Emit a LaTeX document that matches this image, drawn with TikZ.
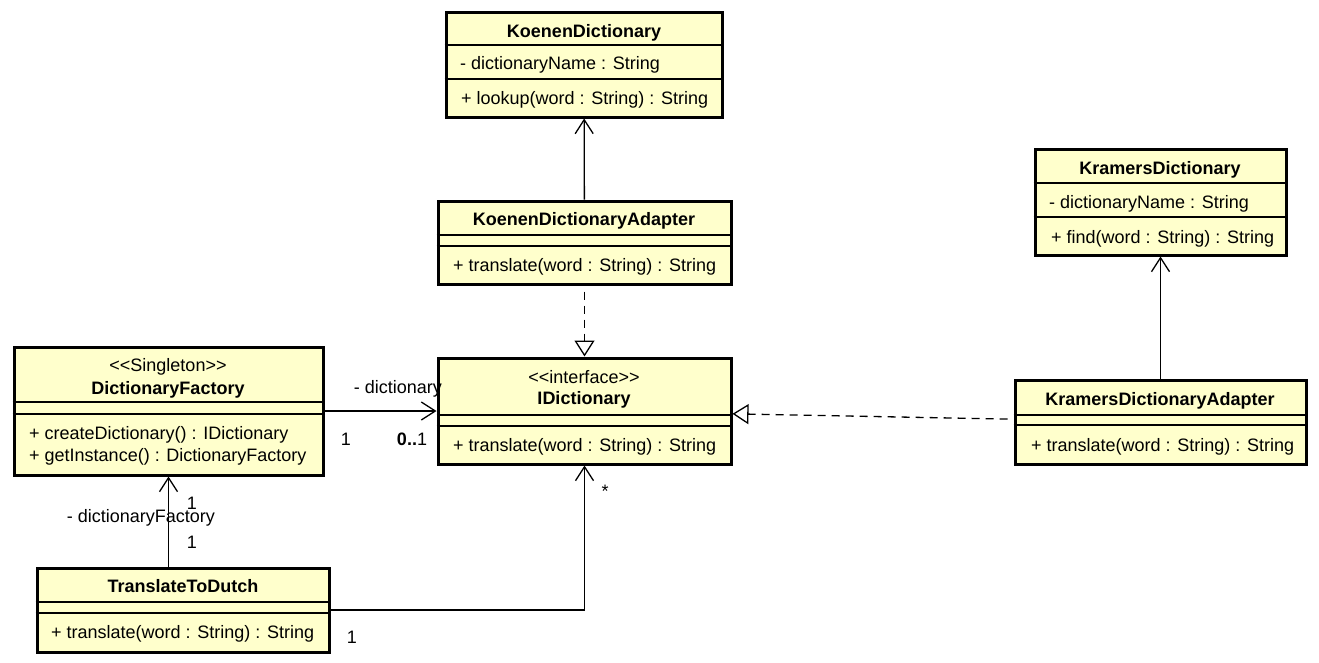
\documentclass[tikz,border=0pt]{standalone}
\usepackage{fontspec}
\setmainfont{Liberation Sans}
\usetikzlibrary{arrows.meta}
\definecolor{classfill}{HTML}{FFFFCC}

\newcommand\umlclass[7]{%
  \node[classbox,minimum width={(#4-#2)*1pt},minimum height={(#5-#3)*1pt}] (#1) at ({(#2+#4)/2},{(#3+#5)/2}) {};
  \draw[classrule] (#1.west |- 0,#6) -- (#1.east |- 0,#6)
                   (#1.west |- 0,#7) -- (#1.east |- 0,#7);}

\begin{document}
\begin{tikzpicture}[x=1pt,y=-1pt,font=\fontsize{18}{22}\selectfont,text height=13pt,text depth=0pt,
  classbox/.style={draw,line width=3pt,fill=classfill,inner sep=0pt},
  classrule/.style={line width=1.4pt},
  classname/.style={font=\fontsize{18}{22}\selectfont\bfseries,inner sep=0pt},
  member/.style={anchor=west,inner sep=0pt},
  rolelabel/.style={inner sep=0pt},
  assoc/.style={line width=1.3pt,-{Straight Barb[length=14pt,width=18pt]}},
  realize/.style={line width=1.3pt,dash pattern=on 8pt off 6pt,dash phase=8pt,-{Triangle[open,length=16pt,width=20pt,fill=white]}}]
\useasboundingbox (0,0) rectangle (1319,662);

\umlclass{kd}  { 446}{ 12}{ 722}{117}{ 45}{ 79}
\umlclass{kda} { 438}{201}{ 731}{284}{235}{246}
\umlclass{id}  { 438}{358}{ 731}{464}{415}{426}
\umlclass{df}  {  14}{347}{ 323}{475}{402}{414}
\umlclass{ttd} {  37}{568}{ 329}{652}{602}{613}
\umlclass{krd} {1035}{149}{1286}{255}{183}{217}
\umlclass{krda}{1015}{380}{1306}{464}{415}{425}

\draw[assoc]   (kda) -- (kd);
\draw[realize] (kda) -- (id);
\draw[assoc]   (krda) -- (krd);
\draw[realize] (krda) -- (id);
\draw[assoc]   (df) -- (id);
\draw[assoc]   (df.south |- ttd.north) -- (df.south);
\draw[assoc]   (ttd.east) -| (id.south);

\node[classname] (kd-name)    at ( 584, 31) {KoenenDictionary};
\node[member]    (kd-attr)    at ( 460, 63) {- dictionaryName : String};
\node[member]    (kd-op)      at ( 461, 98) {+ lookup(word : String) : String};

\node[classname] (kda-name)   at ( 584,219) {KoenenDictionaryAdapter};
\node[member]    (kda-op)     at ( 453,265) {+ translate(word : String) : String};

\node[rolelabel] (id-stereo)  at ( 584,377) {<{}<interface>{}>};
\node[classname] (id-name)    at ( 584,398) {IDictionary};
\node[member]    (id-op)      at ( 453,445) {+ translate(word : String) : String};

\node[rolelabel] (df-stereo)  at ( 168,365) {<{}<Singleton>{}>};
\node[classname] (df-name)    at ( 168,388) {DictionaryFactory};
\node[member]    (df-op1)     at (  29,433) {+ createDictionary() : IDictionary};
\node[member]    (df-op2)     at (  29,455) {+ getInstance() : DictionaryFactory};

\node[classname] (ttd-name)   at ( 183,586) {TranslateToDutch};
\node[member]    (ttd-op)     at (  51,632) {+ translate(word : String) : String};

\node[classname] (krd-name)   at (1160,168) {KramersDictionary};
\node[member]    (krd-attr)   at (1049,202) {- dictionaryName : String};
\node[member]    (krd-op)     at (1051,237) {+ find(word : String) : String};

\node[classname] (krda-name)  at (1160,399) {KramersDictionaryAdapter};
\node[member]    (krda-op)    at (1031,445) {+ translate(word : String) : String};

\node[rolelabel] (dict-role)  at ( 398,387) {- dictionary};
\node[rolelabel] (dict-src)   at ( 346,439) {1};
\node[rolelabel] (dict-dst)   at ( 412,439) {{\bfseries 0..}1};
\node[rolelabel] (fac-dst)    at ( 192,503) {1};
\node[rolelabel] (fac-role)   at ( 141,516) {- dictionaryFactory};
\node[rolelabel] (fac-src)    at ( 192,542) {1};
\node[rolelabel] (use-dst)    at ( 605,491) {*};
\node[rolelabel] (use-src)    at ( 352,637) {1};
\end{tikzpicture}
\end{document}
